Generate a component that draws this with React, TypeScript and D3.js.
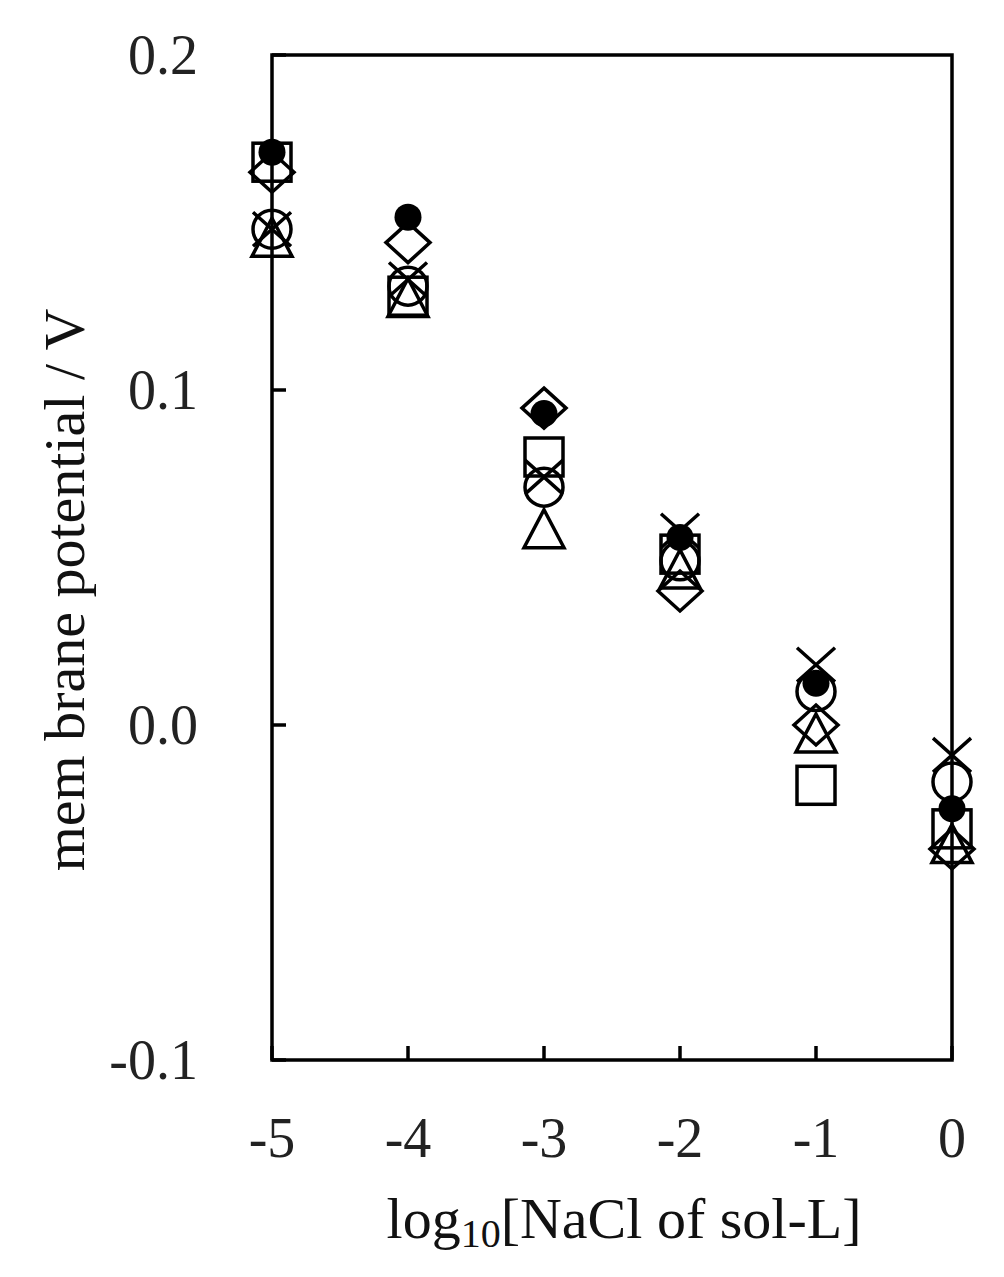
import { useEffect, useRef } from "react";
import * as d3 from "d3";

const xValues = [-5, -4, -3, -2, -1, 0];
const yTicks = [-0.1, 0.0, 0.1, 0.2];
const yTickLabels = ["-0.1", "0.0", "0.1", "0.2"];

// membrane potential (V) per series at each log10[NaCl]
const filledCircle = [0.171, 0.1516, 0.093, 0.056, 0.0125, -0.025];
const openDiamond = [0.165, 0.144, 0.0946, 0.04, 0.0, -0.037];
const openSquare = [0.168, 0.128, 0.08, 0.051, -0.018, -0.031];
const openCircle = [0.148, 0.131, 0.071, 0.049, 0.01, -0.017];
const openTriangle = [0.145, 0.127, 0.058, 0.046, -0.003, -0.036];
const crossMark = [0.148, 0.133, 0.074, 0.058, 0.018, -0.009];

const App = () => {
  const svgRef = useRef<SVGSVGElement>(null);

  useEffect(() => {
    const svg = d3.select(svgRef.current);
    svg.selectAll("*").remove();

    const left = 272, right = 952, top = 55, bottom = 1060;
    const font = "'Liberation Serif', 'Times New Roman', serif";

    const x = d3.scaleLinear().domain([-5, 0]).range([left, right]);
    const y = d3.scaleLinear().domain([-0.1, 0.2]).range([bottom, top]);

    const g = svg.append("g");
    const sw = 3.5;

    const drawSeries = (vals: number[], kind: string) => {
      vals.forEach((v, i) => {
        const cx = x(xValues[i]), cy = y(v);
        if (kind === "square") {
          g.append("rect").attr("x", cx - 19).attr("y", cy - 19).attr("width", 38).attr("height", 38)
            .attr("fill", "none").attr("stroke", "#000").attr("stroke-width", sw);
        } else if (kind === "circle") {
          g.append("circle").attr("cx", cx).attr("cy", cy).attr("r", 19)
            .attr("fill", "none").attr("stroke", "#000").attr("stroke-width", sw);
        } else if (kind === "filled") {
          g.append("circle").attr("cx", cx).attr("cy", cy).attr("r", 13.5).attr("fill", "#000");
        } else if (kind === "diamond") {
          const p = d3.path();
          p.moveTo(cx, cy - 20); p.lineTo(cx + 22, cy); p.lineTo(cx, cy + 20); p.lineTo(cx - 22, cy); p.closePath();
          g.append("path").attr("d", p.toString()).attr("fill", "none").attr("stroke", "#000").attr("stroke-width", sw);
        } else if (kind === "triangle") {
          const p = d3.path();
          p.moveTo(cx, cy - 21); p.lineTo(cx + 20, cy + 17); p.lineTo(cx - 20, cy + 17); p.closePath();
          g.append("path").attr("d", p.toString()).attr("fill", "none").attr("stroke", "#000").attr("stroke-width", sw);
        } else if (kind === "x") {
          g.append("path").attr("d", `M${cx - 19},${cy - 17}L${cx + 19},${cy + 17}M${cx + 19},${cy - 17}L${cx - 19},${cy + 17}`)
            .attr("stroke", "#000").attr("stroke-width", sw);
        }
      });
    };

    drawSeries(openSquare, "square");
    drawSeries(openCircle, "circle");
    drawSeries(openTriangle, "triangle");
    drawSeries(openDiamond, "diamond");
    drawSeries(crossMark, "x");
    drawSeries(filledCircle, "filled");

    // frame
    svg.append("rect").attr("x", left).attr("y", top).attr("width", right - left).attr("height", bottom - top)
      .attr("fill", "none").attr("stroke", "#000").attr("stroke-width", 3.5);

    // inward ticks
    xValues.forEach(v => {
      svg.append("line").attr("x1", x(v)).attr("x2", x(v)).attr("y1", bottom).attr("y2", bottom - 14)
        .attr("stroke", "#000").attr("stroke-width", 3.5);
      svg.append("text").attr("x", x(v)).attr("y", 1157).attr("text-anchor", "middle")
        .attr("font-family", font).attr("font-size", 56).attr("fill", "#222").text(String(v));
    });
    yTicks.forEach((v, i) => {
      svg.append("line").attr("x1", left).attr("x2", left + 14).attr("y1", y(v)).attr("y2", y(v))
        .attr("stroke", "#000").attr("stroke-width", 3.5);
      svg.append("text").attr("x", 198).attr("y", y(v) + 19).attr("text-anchor", "end")
        .attr("font-family", font).attr("font-size", 56).attr("fill", "#222").text(yTickLabels[i]);
    });

    // axis titles
    const xl = svg.append("text").attr("x", 624).attr("y", 1238).attr("text-anchor", "middle")
      .attr("font-family", font).attr("font-size", 58).attr("fill", "#111");
    xl.append("tspan").text("log");
    xl.append("tspan").attr("font-size", 40).attr("dy", 9).text("10");
    xl.append("tspan").attr("dy", -9).text("[NaCl of sol-L]");

    svg.append("text").attr("transform", "translate(84,590) rotate(-90)").attr("text-anchor", "middle")
      .attr("font-family", font).attr("font-size", 58).attr("fill", "#111").text("mem brane potential / V");
  }, []);

  return <svg ref={svgRef} width={1004} height={1277} style={{ position: "absolute", left: 0, top: 0, background: "#fff" }} />;
};

export default App;
